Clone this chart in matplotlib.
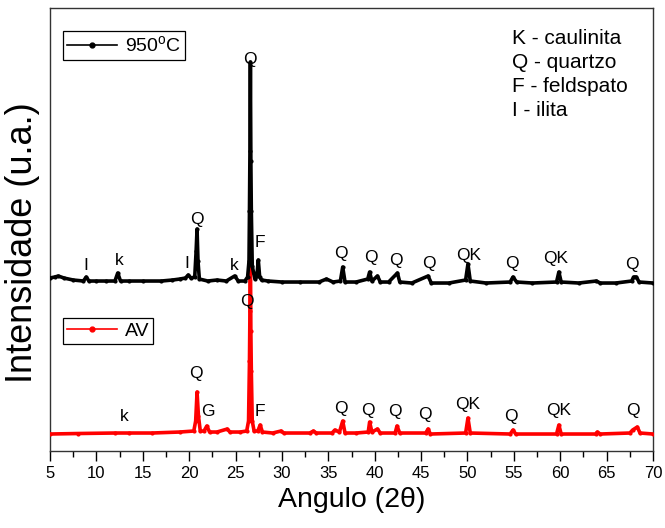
import matplotlib.pyplot as plt

plt.rcParams['font.family'] = ['Liberation Sans', 'DejaVu Sans']
plt.rcParams['mathtext.fontset'] = 'custom'
plt.rcParams['mathtext.rm'] = 'Liberation Sans'

# ---- data (arbitrary units) ----
# sample fired at 950 C (drawn with a vertical offset)
x_950 = [5.0, 5.5, 5.9, 6.5, 7.5, 8.6, 8.9, 9.2, 10.0, 11.0, 12.0, 12.3, 12.6, 13.5,
         15.0, 17.0, 18.2, 19.0, 19.6, 19.9, 20.2, 20.6, 20.75, 20.85, 20.95, 21.1,
         22.0, 23.0, 24.0, 24.9, 25.3, 26.0, 26.3, 26.45, 26.5, 26.55, 26.6, 26.65,
         26.7, 26.8, 26.95, 27.1, 27.3, 27.45, 27.6, 27.8, 28.5, 30.0, 32.0, 34.0,
         34.8, 35.5, 36.3, 36.55, 36.8, 38.0, 39.25, 39.45, 39.7, 40.3, 40.6, 41.5,
         42.45, 42.7, 44.0, 45.75, 46.1, 48.0, 49.8, 50.05, 50.3, 52.0, 54.6, 54.9,
         55.3, 57.0, 59.6, 59.85, 60.1, 62.0, 63.9, 64.3, 66.0, 67.7, 67.9, 68.2,
         68.5, 70.0]
y_950 = [23, 24, 25, 23, 21, 20, 24, 20, 20, 20, 20, 28, 20, 20,
         20, 20, 21, 22, 23, 26, 23, 24, 50, 72, 40, 22,
         20, 21, 20, 25, 20, 20, 24, 40, 90, 150, 239, 140,
         90, 35, 28, 22, 25, 41, 24, 21, 20, 19, 19, 19,
         22, 19, 20, 34, 19, 19, 22, 29, 20, 25, 19, 19,
         28, 19, 18, 25, 18, 18, 21, 37, 20, 18, 19, 24,
         19, 18, 19, 29, 19, 18, 20, 18, 18, 20, 24, 24,
         19, 18]

# raw clay (AV)
x_av = [5.0, 8.0, 12.0, 13.5, 16.0, 19.0, 20.5, 20.7, 20.85, 21.0, 21.2, 21.6, 21.9,
        22.2, 23.0, 24.1, 24.4, 25.5, 26.2, 26.4, 26.5, 26.55, 26.6, 26.65, 26.7,
        26.8, 27.0, 27.4, 27.65, 27.9, 29.0, 29.9, 30.2, 33.0, 33.4, 33.7, 35.4,
        35.7, 36.2, 36.55, 36.8, 38.0, 39.3, 39.45, 39.7, 40.3, 40.6, 42.2, 42.4,
        42.7, 45.5, 45.75, 46.0, 49.8, 50.05, 50.3, 54.6, 54.9, 55.2, 59.6, 59.85,
        60.1, 63.8, 64.0, 64.3, 67.5, 67.8, 68.3, 68.6, 70.0]
y_av = [17, 17.5, 18, 18, 18, 19, 20, 30, 59, 35, 20, 20, 25,
        19, 19, 22, 19, 19, 20, 30, 90, 140, 206, 120, 80,
        30, 20, 20, 26, 19, 18, 20, 18, 18, 20, 18, 18,
        21, 19, 30, 18, 18, 19, 29, 19, 22, 18, 18, 25,
        18, 18, 22, 17, 18, 33, 18, 17, 21, 17, 17, 26,
        17, 17, 19, 17, 18, 21, 24, 18, 17]

offset_950 = 150

# phase labels: (2theta, height, text)
lab_950_x = [8.9, 12.5, 19.8, 24.9, 20.8, 26.55, 27.6, 36.4, 39.6, 42.3, 45.8, 50.1, 54.8, 59.5, 67.7]
lab_950_y = [186, 191, 188, 186, 232, 392, 209, 198, 194, 191, 188, 196, 188, 193, 187]
lab_950_t = ['I', 'k', 'I', 'k', 'Q', 'Q', 'F', 'Q', 'Q', 'Q', 'Q', 'QK', 'Q', 'QK', 'Q']

lab_av_x = [13.0, 20.7, 22.0, 26.2, 27.6, 36.3, 39.3, 42.2, 45.4, 50.0, 54.7, 59.8, 67.8]
lab_av_y = [35, 78, 40, 150, 40, 43, 41, 40, 37, 47, 35, 41, 41]
lab_av_t = ['k', 'Q', 'G', 'Q', 'F', 'Q', 'Q', 'Q', 'Q', 'QK', 'Q', 'QK', 'Q']

phases = ['K - caulinita', 'Q - quartzo', 'F - feldspato', 'I - ilita']

fig = plt.figure(figsize=(6.65, 5.28), dpi=100)
ax = fig.add_axes([0.0752, 0.1458, 0.9068, 0.839])

l1, = ax.plot(x_950, [v + offset_950 for v in y_950], color='black', lw=2.6,
              marker='o', ms=2, label='950$^{\\mathrm{o}}$C', zorder=4)
l2, = ax.plot(x_av, y_av, color='red', lw=2.6, marker='o', ms=2, label='AV', zorder=3)

for x, y, t in zip(lab_950_x, lab_950_y, lab_950_t):
    ax.text(x, y, t, ha='center', va='center', fontsize=12.5)
for x, y, t in zip(lab_av_x, lab_av_y, lab_av_t):
    ax.text(x, y, t, ha='center', va='center', fontsize=12.5)

for i, t in enumerate(phases):
    ax.text(54.8, 413 - 24 * i, t, ha='left', va='center', fontsize=15)

leg1 = ax.legend(handles=[l1], loc='upper left', bbox_to_anchor=(0.021, 0.948),
                 borderaxespad=0, fancybox=False, edgecolor='black', fontsize=14,
                 handlelength=2.6, handletextpad=0.4, borderpad=0.2, framealpha=1)
leg1.get_frame().set_linewidth(0.9)
for h in leg1.legend_handles:
    h.set_linewidth(1.2)
    h.set_markersize(3.5)
ax.add_artist(leg1)
leg2 = ax.legend(handles=[l2], loc='upper left', bbox_to_anchor=(0.021, 0.300),
                 borderaxespad=0, fancybox=False, edgecolor='black', fontsize=14,
                 handlelength=2.6, handletextpad=0.4, borderpad=0.2, framealpha=1)
leg2.get_frame().set_linewidth(0.9)
for h in leg2.legend_handles:
    h.set_linewidth(1.2)
    h.set_markersize(3.5)

ax.set_xlim(5, 70)
ax.set_ylim(0, 443)
ax.set_xticks(range(5, 71, 5))
ax.set_xticks([x + 2.5 for x in range(5, 70, 5)], minor=True)
ax.set_yticks([])
ax.tick_params(axis='x', which='major', direction='out', length=7, width=1, labelsize=12, pad=4)
ax.tick_params(axis='x', which='minor', direction='out', length=4, width=1)
for s in ax.spines.values():
    s.set_color('#333333')
    s.set_linewidth(1)

ax.set_xlabel('Angulo (2θ)', fontsize=20.5, labelpad=4)
ax.set_ylabel('Intensidade (u.a.)', fontsize=26)
ax.yaxis.set_label_coords(-0.016, 0.47)

fig.savefig('out.png', dpi=100)
